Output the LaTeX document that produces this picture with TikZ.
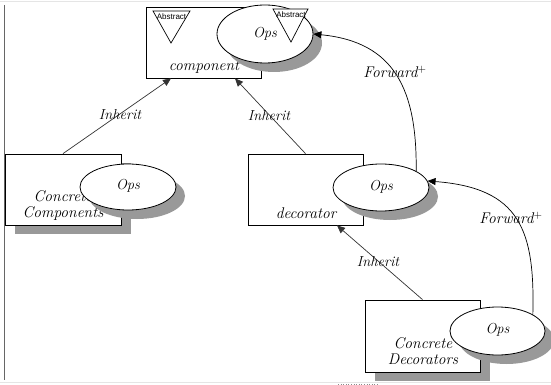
\documentclass[tikz,border=0pt]{standalone}
\usepackage{fontspec}
\newfontfamily\absfont{Liberation Sans}
\usetikzlibrary{shapes.geometric,shadows,arrows.meta}
\begin{document}
\begin{tikzpicture}[x=1pt,y=-1pt,
  lbl/.style={font=\fontsize{15.5}{15}\selectfont\itshape, inner sep=0pt},
  edgelbl/.style={font=\fontsize{14.5}{15}\selectfont\itshape, inner sep=0pt},
  twolines/.style={lbl, align=center, font=\fontsize{15.5}{16}\selectfont\itshape},
  classbox/.style={rectangle, draw=black, line width=0.8pt, fill=white, inner sep=0pt},
  boxshadow/.style={drop shadow={shadow xshift=10pt, shadow yshift=-9pt, fill=black!40, opacity=1}},
  opsell/.style={ellipse, draw=black, line width=0.8pt, fill=white, inner sep=0pt,
    font=\fontsize{14.5}{15}\selectfont\itshape,
    drop shadow={shadow xshift=9pt, shadow yshift=-9pt, fill=black!40, opacity=1}},
  abstri/.style={draw=black, line width=0.7pt, fill=white},
  abslbl/.style={font=\absfont\fontsize{8}{8}\selectfont, inner sep=0pt},
  inherit/.style={draw=black!80, line width=0.7pt, -{Triangle[length=8pt,width=7pt]}},
  forward/.style={draw=black, line width=0.7pt, -{Triangle[length=8pt,width=7pt]}},
]
\useasboundingbox (0,0) rectangle (551,385);

% page frame remnants
\draw[black!60, line width=0.8pt] (4,5) -- (4,380);
\draw[black!10, line width=0.5pt] (0,1) -- (551,1);
\draw[black!10, line width=0.5pt] (0,382) -- (551,382);
\draw[black!45, dotted, line width=0.6pt] (338,384) -- (378,384);

% ---- component ----
\node[classbox, minimum width=115pt, minimum height=71pt] (comp) at (203.5,42.5) {};
\node[lbl] (compname) at (204,67) {component};
\node[opsell, minimum width=96pt, minimum height=58pt] (compops) at (265,34) {Ops};
\draw[abstri] (153,11) -- (190,11) -- (171,43) -- cycle;
\node[abslbl] (abs1) at (171.5,17) {Abstract};
\draw[abstri] (273,9) -- (308,9) -- (291,42) -- cycle;
\node[abslbl] (abs2) at (291,15) {Abstract};

% ---- concrete components ----
\node[classbox, boxshadow, minimum width=116pt, minimum height=71pt] (cc) at (63,189.5) {};
\node[twolines] (ccname) at (63,206) {Concrete\\Components};
\node[opsell, minimum width=96pt, minimum height=46pt] (ccops) at (128,187) {\raisebox{5pt}{Ops}};

% ---- decorator ----
\node[classbox, minimum width=115pt, minimum height=71pt] (dec) at (305.5,189.5) {};
\node[lbl] (decname) at (306,213) {decorator};
\node[opsell, minimum width=96pt, minimum height=47pt] (decops) at (381,187.5) {\raisebox{4pt}{Ops}};

% ---- concrete decorators ----
\node[classbox, boxshadow, minimum width=115pt, minimum height=72pt] (cd) at (422.5,336) {};
\node[twolines] (cdname) at (423,351) {Concrete\\Decorators};
\node[opsell, minimum width=95pt, minimum height=48pt] (cdops) at (497.5,331) {\raisebox{5pt}{Ops}};

% ---- inheritance ----
\draw[inherit] (cc.north) -- ([xshift=-32.5pt]comp.south);
\draw[inherit] (dec.north) -- ([xshift=31.5pt]comp.south);
\draw[inherit] (cd.north) -- ([xshift=31.5pt]dec.south);
\node[edgelbl] (inh1) at (120,115) {Inherit};
\node[edgelbl] (inh2) at (269,116) {Inherit};
\node[edgelbl] (inh3) at (378,262) {Inherit};

% ---- forwarding ----
\draw[forward] (decops.25) .. controls (417,90) and (395,42) .. (compops.east);
\draw[forward] (cdops.25) .. controls (535,230) and (520,188) .. (decops.8);
\node[lbl] (fw1) at (395,72) {Forward$^+$};
\node[lbl] (fw2) at (511,218) {Forward$^+$};
\end{tikzpicture}
\end{document}
